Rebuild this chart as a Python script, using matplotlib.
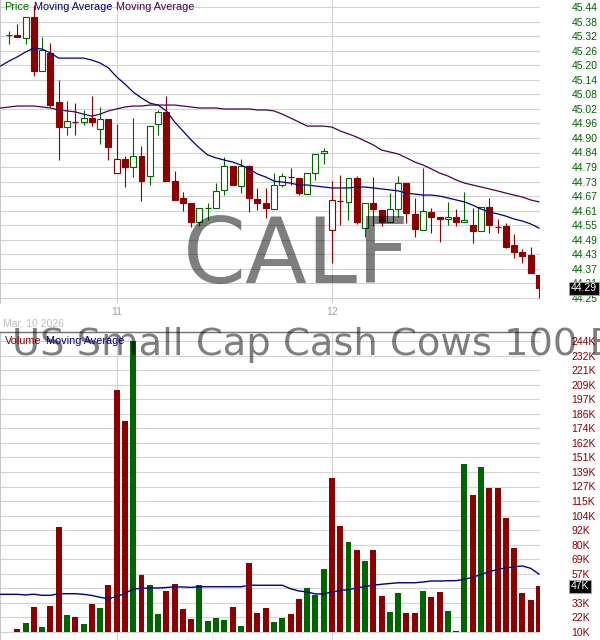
import numpy as np
import matplotlib
matplotlib.use('Agg')
import matplotlib.pyplot as plt

plt.rcParams['font.family'] = ['Liberation Sans', 'DejaVu Sans']

symbol = 'CALF'
fund_name = 'Pacer US Small Cap Cash Cows 100 ETF'
date_label = 'Mar, 10 2026'
day_labels = ['11', '12']
day_first_bar = [13, 39]

# 15 minute bars, Mar 10 (afternoon) to Mar 12
opens = [45.325, 45.325, 45.313, 45.399, 45.178, 45.252, 45.051, 44.949, 44.970, 44.970,
         44.986, 44.941, 44.982, 44.761, 44.818, 44.786, 44.831, 44.749, 44.962, 45.011,
         44.728, 44.659, 44.639, 44.561, 44.618, 44.618, 44.692, 44.790, 44.708, 44.790,
         44.655, 44.639, 44.614, 44.712, 44.745, 44.741, 44.675, 44.761, 44.843, 44.528,
         44.647, 44.643, 44.741, 44.536, 44.639, 44.610, 44.561, 44.614, 44.720, 44.594,
         44.528, 44.602, 44.581, 44.573, 44.581, 44.561, 44.549, 44.524, 44.622, 44.540,
         44.545, 44.467, 44.438, 44.426, 44.344]
highs = [45.342, 45.370, 45.399, 45.448, 45.317, 45.293, 45.141, 45.056, 45.047, 45.019,
         45.076, 45.031, 44.982, 44.962, 44.831, 44.986, 44.872, 44.953, 45.019, 45.076,
         44.769, 44.683, 44.639, 44.618, 44.639, 44.720, 44.827, 44.790, 44.818, 44.794,
         44.700, 44.700, 44.761, 44.761, 44.782, 44.741, 44.761, 44.839, 44.863, 44.728,
         44.753, 44.741, 44.749, 44.639, 44.745, 44.610, 44.679, 44.749, 44.720, 44.659,
         44.782, 44.618, 44.581, 44.643, 44.614, 44.683, 44.618, 44.622, 44.659, 44.573,
         44.557, 44.512, 44.450, 44.459, 44.344]
lows = [45.289, 45.317, 45.289, 45.158, 45.178, 45.031, 44.814, 44.917, 44.917, 44.957,
        44.953, 44.880, 44.814, 44.761, 44.704, 44.745, 44.647, 44.712, 44.917, 44.728,
        44.651, 44.606, 44.540, 44.545, 44.569, 44.618, 44.671, 44.712, 44.679, 44.602,
        44.610, 44.577, 44.614, 44.704, 44.712, 44.671, 44.675, 44.733, 44.798, 44.393,
        44.549, 44.569, 44.553, 44.500, 44.545, 44.545, 44.561, 44.581, 44.557, 44.500,
        44.528, 44.516, 44.479, 44.549, 44.545, 44.561, 44.475, 44.524, 44.516, 44.516,
        44.455, 44.414, 44.393, 44.352, 44.250]
closes = [45.325, 45.317, 45.399, 45.178, 45.264, 45.039, 44.949, 44.974, 44.970, 44.986,
          44.970, 44.982, 44.868, 44.818, 44.786, 44.831, 44.728, 44.953, 45.011, 44.728,
          44.651, 44.639, 44.561, 44.618, 44.618, 44.688, 44.790, 44.712, 44.790, 44.659,
          44.639, 44.618, 44.712, 44.749, 44.745, 44.679, 44.761, 44.839, 44.851, 44.651,
          44.647, 44.741, 44.561, 44.639, 44.614, 44.561, 44.614, 44.720, 44.598, 44.532,
          44.606, 44.581, 44.573, 44.581, 44.561, 44.569, 44.524, 44.622, 44.549, 44.540,
          44.459, 44.438, 44.422, 44.352, 44.29]
volume_k = [10.0, 12.4, 17.5, 30.4, 14.3, 31.2, 94.7, 23.7, 22.3, 16.4,
            32.8, 29.5, 48.0, 204.6, 179.9, 244.0, 56.1, 48.0, 24.7, 43.2,
            48.9, 28.8, 20.7, 48.0, 19.1, 21.5, 19.9, 30.4, 15.1, 65.8,
            25.5, 29.5, 18.3, 21.5, 24.7, 36.8, 45.6, 40.0, 60.9, 133.8,
            95.5, 82.6, 75.9, 67.3, 75.9, 39.0, 26.1, 41.4, 25.5, 25.5,
            43.2, 38.1, 42.2, 26.9, 10.8, 145.1, 120.4, 142.7, 126.0, 126.0,
            101.9, 77.5, 41.4, 35.7, 46.6]

# moving averages start one bar before the first visible candle
ma_fast = [45.199, 45.219, 45.236, 45.256, 45.272, 45.268, 45.252, 45.231, 45.231, 45.231,
           45.231, 45.223, 45.211, 45.191, 45.154, 45.125, 45.092, 45.068, 45.047, 45.039,
           45.015, 44.970, 44.933, 44.896, 44.863, 44.835, 44.823, 44.814, 44.806, 44.794,
           44.778, 44.757, 44.745, 44.728, 44.724, 44.720, 44.712, 44.712, 44.708, 44.704,
           44.700, 44.700, 44.700, 44.704, 44.704, 44.700, 44.696, 44.692, 44.688, 44.679,
           44.675, 44.671, 44.671, 44.667, 44.659, 44.651, 44.643, 44.630, 44.614, 44.602,
           44.594, 44.585, 44.573, 44.565, 44.553, 44.536]
ma_slow = [45.027, 45.031, 45.035, 45.035, 45.035, 45.031, 45.027, 45.019, 45.015, 45.011,
           45.002, 44.994, 45.002, 45.015, 45.023, 45.031, 45.035, 45.035, 45.039, 45.039,
           45.039, 45.039, 45.035, 45.031, 45.027, 45.027, 45.027, 45.023, 45.023, 45.023,
           45.023, 45.019, 45.019, 45.015, 45.002, 44.986, 44.970, 44.953, 44.953, 44.953,
           44.949, 44.933, 44.921, 44.908, 44.892, 44.876, 44.855, 44.847, 44.839, 44.823,
           44.806, 44.794, 44.778, 44.761, 44.749, 44.733, 44.720, 44.712, 44.704, 44.696,
           44.688, 44.679, 44.671, 44.663, 44.651, 44.643]
vol_ma_k = [40.3, 40.3, 40.3, 39.8, 40.4, 39.5, 39.5, 40.8, 40.8, 40.8,
            40.3, 39.4, 37.9, 36.8, 38.5, 41.0, 44.6, 45.1, 45.4, 45.4,
            45.8, 46.4, 46.2, 45.9, 46.4, 46.4, 46.4, 46.4, 46.4, 46.4,
            47.6, 47.6, 47.6, 47.6, 47.6, 44.8, 43.0, 42.2, 40.6, 40.6,
            42.2, 43.4, 44.0, 45.4, 46.6, 47.6, 48.4, 49.0, 49.6, 49.6,
            49.6, 50.2, 51.0, 51.0, 51.2, 51.3, 52.4, 54.0, 56.2, 58.5,
            60.3, 61.6, 62.4, 63.1, 61.2, 56.6]

price_low, price_high = 44.25, 45.44
vol_labels = ['10K', '22K', '33K', '45K', '57K', '69K', '80K', '92K', '104K', '115K', '127K',
              '139K', '151K', '162K', '174K', '186K', '197K', '209K', '221K', '232K', '244K']

GREEN = '#006400'
RED = '#8b0000'
NAVY = '#000080'
PURPLE = '#4b0050'
GRID = '#d3d3d3'

o = np.array(opens)
h = np.array(highs)
l = np.array(lows)
c = np.array(closes)
vol = np.array(volume_k) * 1000
n = len(c)
idx = np.arange(n)
ma_idx = np.arange(-1, n)
prev = np.r_[c[0], c[:-1]]
up = c >= prev
colors = [GREEN if u else RED for u in up]

fig = plt.figure(figsize=(6, 6.4), dpi=100)
W, H = 600, 640
ax_p = fig.add_axes([0, 1 - 303 / H, 540 / W, 303 / H])
ax_v = fig.add_axes([0, 0, 540 / W, 308 / H])

xlim = (-1.09, n - 0.87)
px_price = (price_high - price_low) / 291
ax_p.set_xlim(*xlim)
ax_p.set_ylim(price_low - 5 * px_price, price_high + 7 * px_price)

# candles
w = 0.72
ax_p.vlines(idx, l, h, colors=colors, lw=0.8, zorder=3)
for i in range(n):
    if c[i] > o[i]:
        ax_p.bar(i, c[i] - o[i], bottom=o[i], width=w, facecolor='white',
                 edgecolor=colors[i], lw=0.8, zorder=4)
    elif c[i] < o[i]:
        ax_p.bar(i, o[i] - c[i], bottom=c[i], width=w, facecolor=colors[i],
                 edgecolor=colors[i], lw=0.8, zorder=4)
    else:
        ax_p.hlines(c[i], i - w / 2, i + w / 2, colors=colors[i], lw=0.9, zorder=4)

ax_p.plot(ma_idx, ma_fast, color=NAVY, lw=0.9, zorder=5)
ax_p.plot(ma_idx, ma_slow, color=PURPLE, lw=0.9, zorder=5)

price_ticks = np.linspace(price_low, price_high, 21)
ax_p.set_yticks(price_ticks, ['%.2f' % t for t in price_ticks])
ax_p.yaxis.tick_right()
ax_p.tick_params(axis='y', length=0, pad=22.5, labelsize=7.5, labelcolor=GREEN)
ax_p.set_xticks(day_first_bar, day_labels)
ax_p.tick_params(axis='x', length=0, pad=3, labelsize=7.5, labelcolor='#a0a0a0')
ax_p.grid(True, color=GRID, lw=0.8, zorder=0)
ax_p.set_axisbelow(True)
for s in ['top', 'right', 'bottom']:
    ax_p.spines[s].set_visible(False)
ax_p.spines['left'].set_color('#c8c8c8')

# last price box
ax_p.text(571 / 540, c[-1], '%.2f' % c[-1], transform=ax_p.get_yaxis_transform(),
          color='white', fontsize=7.5, va='center', ha='left', zorder=10,
          bbox=dict(boxstyle='square,pad=0.15', fc='black', ec='#a0a0a0', lw=0.8))

# volume panel
px_vol = (244 - 10) * 1000 / 291
vol_base = 10000
ax_v.set_xlim(*xlim)
ax_v.set_ylim(vol_base - 8 * px_vol, 244000 + 9 * px_vol)
ax_v.bar(idx, vol - vol_base, bottom=vol_base, width=w, color=colors, zorder=3)
ax_v.plot(ma_idx, np.array(vol_ma_k) * 1000, color=NAVY, lw=1.0, zorder=4)
vol_ticks = np.linspace(10000, 244000, 21)
shown = [lab if abs(t - vol[-1]) > 6000 else '' for t, lab in zip(vol_ticks, vol_labels)]
ax_v.set_yticks(vol_ticks, shown)
ax_v.yaxis.tick_right()
ax_v.tick_params(axis='y', length=0, pad=22.5, labelsize=7.5, labelcolor=RED)
ax_v.set_xticks(day_first_bar, ['' for _ in day_labels])
ax_v.tick_params(axis='x', length=0)
ax_v.grid(True, color=GRID, lw=0.8, zorder=0)
ax_v.set_axisbelow(True)
for s in ['right', 'bottom']:
    ax_v.spines[s].set_visible(False)
ax_v.spines['left'].set_color('#c8c8c8')
ax_v.spines['top'].set_color('#707070')
ax_v.spines['top'].set_linewidth(1.0)

ax_v.text(571 / 540, vol[-1], '%dK' % round(vol[-1] / 1000), transform=ax_v.get_yaxis_transform(),
          color='white', fontsize=7.5, va='center', ha='left', zorder=10,
          bbox=dict(boxstyle='square,pad=0.15', fc='black', ec='#a0a0a0', lw=0.8))

fig.text(3 / W, 1 - 324 / H, date_label, color='#c0c0c0', fontsize=7.5, va='center')

# watermarks
fig.text(296 / W, 1 - 283 / H, symbol, fontsize=65, family='DejaVu Sans',
         color='black', alpha=0.5, ha='center', va='baseline', zorder=20)
fig.text(277 / W, 1 - 355 / H, fund_name, fontsize=27.7, family='DejaVu Sans',
         color='black', alpha=0.5, ha='center', va='baseline', zorder=20)

# coloured legends
renderer = fig.canvas.get_renderer()


def legend_row(x_px, y_px, pieces):
    x = x_px
    for text, col in pieces:
        t = fig.text(x / W, 1 - y_px / H, text, color=col, fontsize=7.8,
                     va='center', ha='left', zorder=25)
        x += t.get_window_extent(renderer).width + 4.5


legend_row(4, 6.5, [('Price', GREEN), ('Moving Average', NAVY), ('Moving Average', PURPLE)])
legend_row(5, 341, [('Volume', RED), ('Moving Average', NAVY)])

fig.savefig('out.png', dpi=100)
